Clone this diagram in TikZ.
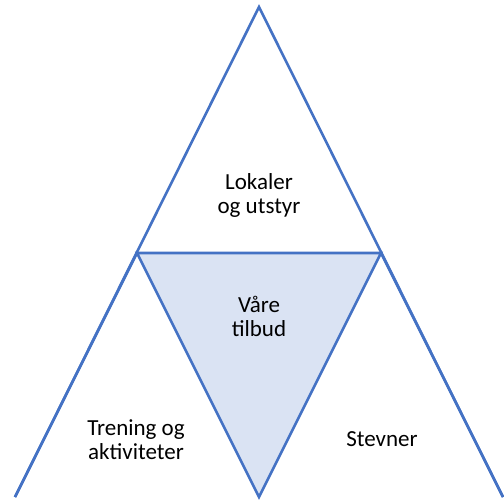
\documentclass[tikz,border=0pt]{standalone}
\usepackage{fontspec}
\setmainfont{Carlito}
\usepackage{tikz}
\definecolor{triblue}{HTML}{4472C4}
\definecolor{trifill}{HTML}{DAE3F3}
\tikzset{
	edge/.style={line width=2.6pt, color=triblue, line join=miter},
	label/.style={align=center, font=\fontsize{23}{24}\selectfont, inner sep=0pt}
}

\begin{document}
\begin{tikzpicture}[x=1pt, y=-1pt]
		%%%%% START %%%%%
		\useasboundingbox (0, 0) rectangle (504, 499);
		\clip (0, 0) rectangle (504, 499);
		
		% middle triangle
		\draw[edge, fill=trifill] (137, 253) -- (381, 253) -- (259, 497) -- cycle;
		
		% outer sides
		\draw[edge] (15, 497) -- (259, 7) -- (503, 497);
		\draw[edge] (15, 497) -- (137, 253);
		\draw[edge] (503, 497) -- (381, 253);
		
		\node[label] (lokaler) at (259, 195) {Lokaler\\og utstyr};
		\node[label] (tilbud) at (259, 316) {Våre\\tilbud};
		\node[label] (trening) at (136, 440) {Trening og\\aktiviteter};
		\node[label, anchor=base] (stevner) at (382, 446) {Stevner};
		
		%%%%% END %%%%%
	\end{tikzpicture}
\end{document}
